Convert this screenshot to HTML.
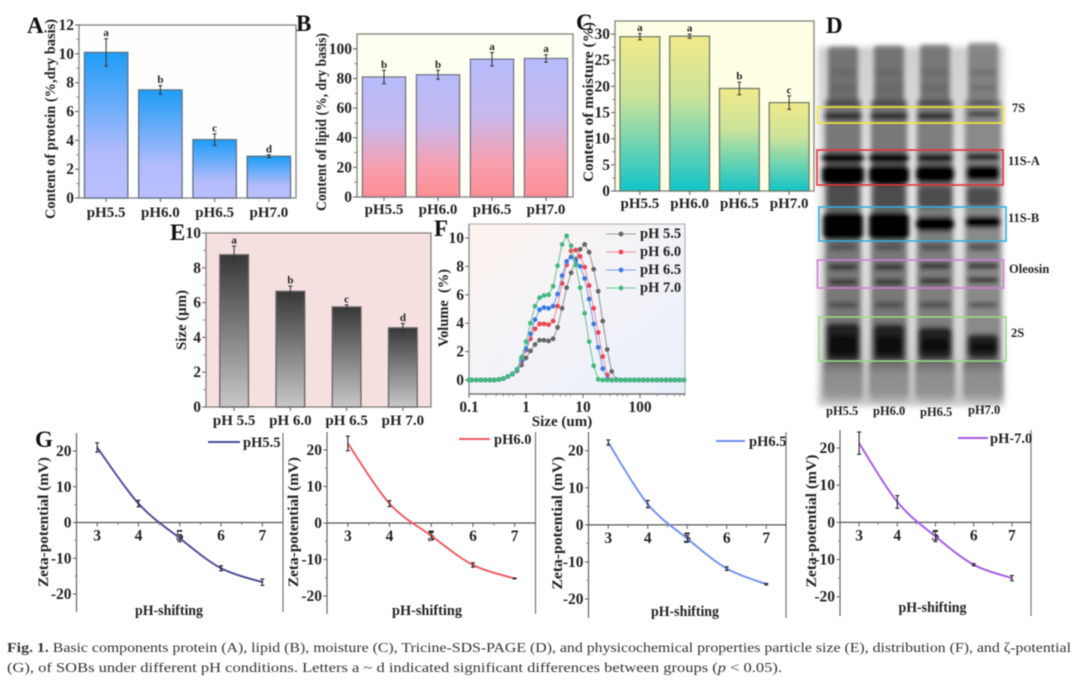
<!DOCTYPE html>
<html lang="en">
<head>
<meta charset="utf-8">
<title>Fig. 1 Basic components and physicochemical properties of SOBs</title>
<style>
html,body{margin:0;padding:0;background:#fff;width:1080px;height:686px;overflow:hidden}
svg{display:block;filter:blur(0.45px)}
text{font-family:"Liberation Serif","DejaVu Serif",serif;font-weight:bold;fill:#222}
.letter{font-size:23px;fill:#111}
.title{font-size:15px;text-anchor:middle}
.leg{font-size:14.5px}
.gel{font-size:12.5px}
.cap{font-size:14px;font-weight:normal;fill:#333}
</style>
</head>
<body>
<svg id="figure" xmlns="http://www.w3.org/2000/svg" width="1080" height="686" viewBox="0 0 1080 686">
<defs>
<linearGradient id="gradA" x1="0" y1="0" x2="0" y2="1"><stop offset="0" stop-color="#1d9df6"/><stop offset=".7" stop-color="#b4bbfc"/><stop offset="1" stop-color="#bbbffc"/></linearGradient>
<linearGradient id="gradB" x1="0" y1="0" x2="0" y2="1"><stop offset="0" stop-color="#b7bcfb"/><stop offset=".4" stop-color="#c6b9ee"/><stop offset=".75" stop-color="#f79fae"/><stop offset="1" stop-color="#ff8e93"/></linearGradient>
<linearGradient id="gradC" x1="0" y1="0" x2="0" y2="1"><stop offset="0" stop-color="#f1ea8a"/><stop offset=".4" stop-color="#cbe39b"/><stop offset="1" stop-color="#12c4c8"/></linearGradient>
<linearGradient id="gradE" x1="0" y1="0" x2="0" y2="1"><stop offset="0" stop-color="#373737"/><stop offset="1" stop-color="#c8c8c8"/></linearGradient>
<linearGradient id="gradF" x1="0" y1="0" x2="1" y2="1"><stop offset="0" stop-color="#fdf3ee"/><stop offset=".5" stop-color="#f3f3f8"/><stop offset="1" stop-color="#e9f0fa"/></linearGradient>
<linearGradient id="laneFill" x1="0" y1="0" x2="0" y2="1"><stop offset="0" stop-color="#757575"/><stop offset="1" stop-color="#6a6a6a"/></linearGradient>
<linearGradient id="laneBottom" x1="0" y1="0" x2="0" y2="1"><stop offset="0" stop-color="#5e5e5e"/><stop offset=".35" stop-color="#8c8c8c"/><stop offset=".8" stop-color="#939393"/><stop offset="1" stop-color="#b4b4b4"/></linearGradient>
<linearGradient id="gelBack" x1="0" y1="0" x2="0" y2="1"><stop offset="0" stop-color="#cfcfcf"/><stop offset=".45" stop-color="#e4e4e4"/><stop offset=".8" stop-color="#d6d6d6"/><stop offset="1" stop-color="#c4c4c4"/></linearGradient>
<filter id="blurBand" x="-10%" y="-10%" width="120%" height="120%"><feGaussianBlur stdDeviation="2.4"/></filter>
<filter id="blurBack" x="-10%" y="-10%" width="120%" height="120%"><feGaussianBlur stdDeviation="3"/></filter>
</defs>

<g id="gel"></g>
<g id="charts"></g>

<g>
<text class="letter" x="27" y="33">A</text>
<text class="letter" x="296" y="31">B</text>
<text class="letter" x="576" y="30">C</text>
<text class="letter" x="826" y="33">D</text>
<text class="letter" x="170" y="240">E</text>
<text class="letter" x="434" y="236">F</text>
<text class="letter" x="35" y="447">G</text>
</g>

<g>
<text class="title" transform="translate(55,119) rotate(-90)" textLength="200" lengthAdjust="spacingAndGlyphs">Content of protein (%,dry basis)</text>
<text class="title" transform="translate(326,122) rotate(-90)" textLength="178" lengthAdjust="spacingAndGlyphs">Content of lipid (%, dry basis)</text>
<text class="title" transform="translate(593,102) rotate(-90)" textLength="160" lengthAdjust="spacingAndGlyphs">Content of moisture (%)</text>
<text class="title" transform="translate(186,320) rotate(-90)" textLength="60" lengthAdjust="spacingAndGlyphs">Size (µm)</text>
<text class="title" transform="translate(448,308) rotate(-90)" textLength="78" lengthAdjust="spacingAndGlyphs" xml:space="preserve">Volume  (%)</text>
<text class="title" x="562" y="426">Size (um)</text>
<text class="title" transform="translate(48,522) rotate(-90)" textLength="130" lengthAdjust="spacingAndGlyphs">Zeta-potential (mV)</text>
<text class="title" transform="translate(298,522) rotate(-90)" textLength="130" lengthAdjust="spacingAndGlyphs">Zeta-potential (mV)</text>
<text class="title" transform="translate(562,523) rotate(-90)" textLength="133" lengthAdjust="spacingAndGlyphs">Zeta-potential (mV)</text>
<text class="title" transform="translate(816,521) rotate(-90)" textLength="133" lengthAdjust="spacingAndGlyphs">Zeta-potential (mV)</text>
<text class="title" x="169" y="615" textLength="68" lengthAdjust="spacingAndGlyphs">pH-shifting</text>
<text class="title" x="427" y="615" textLength="70" lengthAdjust="spacingAndGlyphs">pH-shifting</text>
<text class="title" x="685" y="616" textLength="68" lengthAdjust="spacingAndGlyphs">pH-shifting</text>
<text class="title" x="932.5" y="612" textLength="68" lengthAdjust="spacingAndGlyphs">pH-shifting</text>
</g>

<g>
<text class="leg" x="640" y="238">pH 5.5</text>
<text class="leg" x="640" y="256">pH 6.0</text>
<text class="leg" x="640" y="274">pH 6.5</text>
<text class="leg" x="640" y="292">pH 7.0</text>
</g>

<g>
<line x1="208" x2="240" y1="442" y2="442" stroke="#4a4a96" stroke-width="2"/>
<text class="leg" x="243" y="447">pH5.5</text>
<line x1="459" x2="490" y1="439" y2="439" stroke="#ee5a60" stroke-width="2"/>
<text class="leg" x="494" y="444">pH6.0</text>
<line x1="716" x2="745" y1="441" y2="441" stroke="#6f8ff0" stroke-width="2"/>
<text class="leg" x="749" y="446">pH6.5</text>
<line x1="958" x2="988" y1="438" y2="438" stroke="#a45be8" stroke-width="2"/>
<text class="leg" x="990" y="443">pH-7.0</text>
</g>

<g>
<rect x="817.5" y="107" width="186" height="16" fill="none" stroke="#f2e93c" stroke-width="1.6"/>
<rect x="817" y="150" width="186" height="35" fill="none" stroke="#e8323c" stroke-width="1.6"/>
<rect x="819" y="207" width="187" height="34" fill="none" stroke="#35aee6" stroke-width="1.6"/>
<rect x="817.5" y="260" width="186" height="28" fill="none" stroke="#d07fd6" stroke-width="1.6"/>
<rect x="819" y="317" width="187" height="44" fill="none" stroke="#97dc86" stroke-width="1.6"/>
<text class="gel" x="1012" y="112">7S</text>
<text class="gel" x="1008" y="165">11S-A</text>
<text class="gel" x="1008" y="222">11S-B</text>
<text class="gel" x="1009" y="273">Oleosin</text>
<text class="gel" x="1011" y="337">2S</text>
<text class="gel" x="826" y="415">pH5.5</text>
<text class="gel" x="873" y="415">pH6.0</text>
<text class="gel" x="920" y="416">pH6.5</text>
<text class="gel" x="968" y="414">pH7.0</text>
</g>

<g>
<text class="cap" x="7" y="652" textLength="1064" lengthAdjust="spacingAndGlyphs"><tspan font-weight="bold">Fig. 1.</tspan>  Basic components protein (A), lipid (B), moisture (C), Tricine-SDS-PAGE (D), and physicochemical properties particle size (E), distribution (F), and ζ-potential</text>
<text class="cap" x="7" y="672" textLength="775" lengthAdjust="spacingAndGlyphs">(G), of SOBs under different pH conditions. Letters a ~ d indicated significant differences between groups (<tspan font-style="italic">p</tspan> &lt; 0.05).</text>
</g>
</svg>

<script>
/* ---- chart data ---- */
const barCategories = ['pH5.5', 'pH6.0', 'pH6.5', 'pH7.0'];
const sizeCategories = ['pH 5.5', 'pH 6.0', 'pH 6.5', 'pH 7.0'];

const proteinValues = [10.1, 7.5, 4.05, 2.9];
const proteinErrors = [0.95, 0.3, 0.4, 0.1];
const proteinLetters = ['a', 'b', 'c', 'd'];
const proteinTicks = [0, 2, 4, 6, 8, 10, 12];

const lipidValues = [81, 82.5, 93, 93.5];
const lipidErrors = [4.5, 3, 4.5, 2.5];
const lipidLetters = ['b', 'b', 'a', 'a'];
const lipidTicks = [0, 20, 40, 60, 80, 100];

const moistureValues = [29.5, 29.6, 19.6, 16.9];
const moistureErrors = [0.6, 0.4, 1.2, 1.3];
const moistureLetters = ['a', 'a', 'b', 'c'];
const moistureTicks = [0, 5, 10, 15, 20, 25, 30];

const sizeValues = [8.75, 6.65, 5.75, 4.55];
const sizeErrors = [0.5, 0.3, 0.12, 0.25];
const sizeLetters = ['a', 'b', 'c', 'd'];
const sizeTicks = [0, 2, 4, 6, 8, 10];

const particleSizes = [0.1,0.112,0.135,0.162,0.194,0.233,0.279,0.335,0.402,0.482,0.579,0.694,0.833,1,1.2,1.44,1.73,2.07,2.49,2.99,3.58,4.3,5.16,6.19,7.43,8.92,10.7,12.8,15.4,18.5,22.2,26.6,31.9,38.3,46,55.2,66.2,79.5,95.4,114,137,165,198,237,285,342,410,492,591];
const volumeGrey  = [0,0,0,0,0,0,0,0.03,0.1,0.25,0.42,0.65,1.05,1.55,2.05,2.5,2.8,2.8,2.75,2.9,3.7,5.05,6.5,7.55,8.5,9.2,9.55,9.0,7.8,6.25,4.15,2.15,0.6,0.03,0,0,0,0,0,0,0,0,0,0,0,0,0,0,0];
const volumeRed   = [0,0,0,0,0,0,0,0.03,0.1,0.25,0.42,0.7,1.3,2.1,2.9,3.6,3.95,3.95,3.9,4.15,5.2,6.8,8.1,9.1,9.15,8.7,7.95,6.65,5.05,3.35,1.65,0.35,0,0,0,0,0,0,0,0,0,0,0,0,0,0,0,0,0];
const volumeBlue  = [0,0,0,0,0,0,0,0.03,0.1,0.25,0.42,0.7,1.4,2.2,3.25,4.25,4.95,5.1,5.05,5.2,6.05,7.35,8.35,8.65,8.4,8.0,7.15,5.7,3.95,2.3,0.8,0.05,0,0,0,0,0,0,0,0,0,0,0,0,0,0,0,0,0];
const volumeGreen = [0,0,0,0,0,0,0,0.03,0.1,0.25,0.45,0.75,1.6,2.7,4.0,5.2,5.8,5.95,6.0,6.6,8.05,9.55,10.15,9.45,8.1,6.5,4.7,2.7,1.0,0.05,0,0,0,0,0,0,0,0,0,0,0,0,0,0,0,0,0,0,0];
const volumeTicks = [0, 2, 4, 6, 8, 10];
const sizeAxisTicks = [0.1, 1, 10, 100];
const sizeAxisLabels = ['0.1', '1', '10', '100'];

const shiftPH = [3, 4, 5, 6, 7];
const zetaTicks = [-20, -10, 0, 10, 20];
const zeta55 = [21, 5.3, -4.4, -12.8, -16.7];
const zeta55Err = [1.3, 0.9, 1.0, 0.7, 0.9];
const zeta60 = [21.8, 5.3, -3.5, -11.5, -15.2];
const zeta60Err = [2.0, 0.8, 0.8, 0.6, 0.1];
const zeta65 = [22.2, 5.6, -3.7, -11.8, -16];
const zeta65Err = [0.7, 1.0, 0.8, 0.5, 0.2];
const zeta70 = [21.3, 5.5, -3.8, -11.4, -15];
const zeta70Err = [3, 1.7, 1.4, 0.3, 0.7];

/* ---- helpers ---- */
const NS = 'http://www.w3.org/2000/svg';
const charts = document.getElementById('charts');
const gel = document.getElementById('gel');

function add(parent, tag, attrs, name) {
  const el = document.createElementNS(NS, tag);
  for (const k in attrs) el.setAttribute(k, attrs[k]);
  
  
  parent.appendChild(el);
  return el;
}
function label(parent, x, y, str, size, anchor, name) {
  const t = add(parent, 'text', {x: x, y: y, 'font-size': size, 'text-anchor': anchor}, name);
  t.textContent = str;
  return t;
}
function linear(d0, d1, r0, r1) {
  return function (v) { return r0 + (v - d0) * (r1 - r0) / (d1 - d0); };
}
function logScale(d0, d1, r0, r1) {
  const l = linear(Math.log10(d0), Math.log10(d1), r0, r1);
  return function (v) { return l(Math.log10(v)); };
}

/* ---- bar panels ---- */
function barPanel(o) {
  const g = add(charts, 'g', {}, 'panel-' + o.key);
  const yScale = linear(0, o.yMax, o.bottom, o.top);
  const pitch = (o.right - o.left) / o.cats.length;
  const xCenter = function (i) { return o.left + (i + 0.5) * pitch; };
  add(g, 'rect', {x: o.left, y: o.top, width: o.right - o.left, height: o.bottom - o.top, fill: o.bg, stroke: '#8a8a84', 'stroke-width': 1.4}, 'plot-frame-' + o.key);

  o.ticks.forEach(function (v, i) {
    const y = yScale(v);
    add(g, 'line', {x1: o.left - 4, x2: o.left, y1: y, y2: y, stroke: '#666', 'stroke-width': 1.1}, 'y-tick');
    label(g, o.left - 5, y + 5, String(v), 15.5, 'end', 'y-tick-label');
    if (i < o.ticks.length - 1) {
      const m = yScale((v + o.ticks[i + 1]) / 2);
      add(g, 'line', {x1: o.left - 2.5, x2: o.left, y1: m, y2: m, stroke: '#777', 'stroke-width': 1}, 'y-minor-tick');
    }
  });
  o.cats.forEach(function (c, i) {
    const cx = xCenter(i);
    const w = pitch * o.barRatio;
    const top = yScale(o.values[i]);
    add(g, 'rect', {x: cx - w / 2, y: top, width: w, height: o.bottom - top, fill: 'url(#' + o.grad + ')', stroke: o.barStroke, 'stroke-width': 1.3}, 'bar-' + o.key + '-' + i);
    const e1 = yScale(o.values[i] + o.errors[i]);
    const e2 = yScale(o.values[i] - o.errors[i]);
    add(g, 'line', {x1: cx, x2: cx, y1: e1, y2: e2, stroke: '#333', 'stroke-width': 1}, 'error-bar');
    add(g, 'line', {x1: cx - 2, x2: cx + 2, y1: e1, y2: e1, stroke: '#333', 'stroke-width': 1}, 'error-cap-top');
    add(g, 'line', {x1: cx - 2, x2: cx + 2, y1: e2, y2: e2, stroke: '#333', 'stroke-width': 1}, 'error-cap-bottom');
    label(g, cx, e1 - 2.5, o.letters[i], 11, 'middle', 'significance-letter');
    add(g, 'line', {x1: cx, x2: cx, y1: o.bottom, y2: o.bottom + 4, stroke: '#666', 'stroke-width': 1.1}, 'x-tick');
    label(g, cx, o.labelY, c, 15, 'middle', 'x-tick-label');
  });
}

barPanel({key: 'protein', left: 79, right: 296, top: 25, bottom: 198, yMax: 12, ticks: proteinTicks, cats: barCategories, values: proteinValues, errors: proteinErrors, letters: proteinLetters, bg: '#fefefd', grad: 'gradA', barStroke: '#5f7287', barRatio: 0.8, labelY: 217});
barPanel({key: 'lipid', left: 357, right: 573, top: 34, bottom: 197, yMax: 110, ticks: lipidTicks, cats: barCategories, values: lipidValues, errors: lipidErrors, letters: lipidLetters, bg: '#fffff2', grad: 'gradB', barStroke: '#76748a', barRatio: 0.8, labelY: 214});
barPanel({key: 'moisture', left: 615, right: 814, top: 21, bottom: 191, yMax: 32.5, ticks: moistureTicks, cats: barCategories, values: moistureValues, errors: moistureErrors, letters: moistureLetters, bg: '#ffffe6', grad: 'gradC', barStroke: '#6f7f6a', barRatio: 0.8, labelY: 208});
barPanel({key: 'size', left: 206, right: 431, top: 233, bottom: 407, yMax: 10, ticks: sizeTicks, cats: sizeCategories, values: sizeValues, errors: sizeErrors, letters: sizeLetters, bg: '#f5dfdf', grad: 'gradE', barStroke: '#666', barRatio: 0.51, labelY: 425});

/* ---- distribution panel ---- */
(function () {
  const g = add(charts, 'g', {}, 'panel-distribution');
  const left = 469, right = 685, top = 224, bottom = 394;
  const xs = logScale(0.1, 1, left, left + 57);
  const ys = linear(0, 10, 380, 238);
  add(g, 'rect', {x: left, y: top, width: right - left, height: bottom - top, fill: 'url(#gradF)', stroke: '#b5b5b5', 'stroke-width': 1.2}, 'plot-frame-distribution');
  add(g, 'line', {x1: left, x2: right, y1: bottom, y2: bottom, stroke: '#666', 'stroke-width': 1.2}, 'x-axis-line');
  add(g, 'line', {x1: left, x2: left, y1: top, y2: bottom, stroke: '#888', 'stroke-width': 1.2}, 'y-axis-line');
  volumeTicks.forEach(function (v) {
    add(g, 'line', {x1: left - 4, x2: left, y1: ys(v), y2: ys(v), stroke: '#666', 'stroke-width': 1}, 'y-tick');
    label(g, left - 5, ys(v) + 5, String(v), 15.5, 'end', 'y-tick-label');
  });
  sizeAxisTicks.forEach(function (v, i) {
    add(g, 'line', {x1: xs(v), x2: xs(v), y1: bottom, y2: bottom + 4, stroke: '#666', 'stroke-width': 1}, 'x-tick');
    label(g, xs(v), 412, sizeAxisLabels[i], 15.5, 'middle', 'x-tick-label');
    [2, 3, 4, 5, 6].forEach(function (m) {
      if (xs(v * m) < right) add(g, 'line', {x1: xs(v * m), x2: xs(v * m), y1: bottom, y2: bottom + 2.5, stroke: '#777', 'stroke-width': 0.8}, 'x-minor-tick');
    });
  });
  const series = [
    {name: 'ph-55', vals: volumeGrey, line: '#9a9a9a', dot: '#666666', ly: 234},
    {name: 'ph-60', vals: volumeRed, line: '#f4929a', dot: '#ee4552', ly: 252},
    {name: 'ph-65', vals: volumeBlue, line: '#7aa4ec', dot: '#3a7ce6', ly: 270},
    {name: 'ph-70', vals: volumeGreen, line: '#70c69a', dot: '#44b880', ly: 288}
  ];
  series.forEach(function (s) {
    const pts = s.vals.map(function (v, i) { return xs(particleSizes[i]).toFixed(1) + ',' + ys(v).toFixed(1); }).join(' ');
    add(g, 'polyline', {points: pts, fill: 'none', stroke: s.line, 'stroke-width': 1.1}, 'line-' + s.name);
    s.vals.forEach(function (v, i) {
      add(g, 'circle', {cx: xs(particleSizes[i]), cy: ys(v), r: 2.4, fill: s.dot}, 'point-' + s.name);
    });
    add(g, 'line', {x1: 606, x2: 636, y1: s.ly, y2: s.ly, stroke: s.line, 'stroke-width': 1.1}, 'legend-line-' + s.name);
    add(g, 'circle', {cx: 621, cy: s.ly, r: 2.4, fill: s.dot}, 'legend-marker-' + s.name);
  });
})();

/* ---- zeta panels ---- */
function zetaPanel(o) {
  const g = add(charts, 'g', {}, 'panel-zeta-' + o.key);
  const xs = linear(2.5, 7.5, o.left, o.right);
  const ys = linear(20, -20, o.y20, o.yM20);
  const zero = ys(0);
  add(g, 'line', {x1: o.left, x2: o.left, y1: o.top, y2: o.bottom, stroke: '#666', 'stroke-width': 1.2}, 'y-axis-line');
  add(g, 'line', {x1: o.right, x2: o.right, y1: o.top, y2: o.bottom, stroke: '#777', 'stroke-width': 1.2}, 'right-border');
  add(g, 'line', {x1: o.left, x2: o.right, y1: zero, y2: zero, stroke: '#555', 'stroke-width': 1.2}, 'zero-line');
  zetaTicks.forEach(function (v, i) {
    add(g, 'line', {x1: o.left - 3.5, x2: o.left, y1: ys(v), y2: ys(v), stroke: '#555', 'stroke-width': 1}, 'y-tick');
    label(g, o.left - 5, ys(v) + 5, String(v), 15.5, 'end', 'y-tick-label');
    if (i < zetaTicks.length - 1) {
      const m = ys(v + 5);
      add(g, 'line', {x1: o.left - 2, x2: o.left, y1: m, y2: m, stroke: '#666', 'stroke-width': 0.8}, 'y-minor-tick');
    }
  });
  shiftPH.forEach(function (v) {
    add(g, 'line', {x1: xs(v), x2: xs(v), y1: zero, y2: zero + 4, stroke: '#555', 'stroke-width': 1}, 'x-tick');
    add(g, 'line', {x1: xs(v + 0.5), x2: xs(v + 0.5), y1: zero, y2: zero + 2.5, stroke: '#666', 'stroke-width': 0.8}, 'x-minor-tick');
    label(g, xs(v), zero + 18, String(v), 15.5, 'middle', 'x-tick-label');
  });
  const p = o.values.map(function (v, i) { return [xs(shiftPH[i]), ys(v)]; });
  let d = 'M' + p[0][0] + ' ' + p[0][1];
  for (let i = 0; i < p.length - 1; i++) {
    const a = p[Math.max(0, i - 1)], b = p[i], c = p[i + 1], e = p[Math.min(p.length - 1, i + 2)];
    d += ' C' + (b[0] + (c[0] - a[0]) / 6) + ' ' + (b[1] + (c[1] - a[1]) / 6) + ' ' + (c[0] - (e[0] - b[0]) / 6) + ' ' + (c[1] - (e[1] - b[1]) / 6) + ' ' + c[0] + ' ' + c[1];
  }
  add(g, 'path', {d: d, fill: 'none', stroke: o.color, 'stroke-width': 1.9}, 'zeta-line-' + o.key);
  o.values.forEach(function (v, i) {
    const x = xs(shiftPH[i]), y1 = ys(v + o.errors[i]), y2 = ys(v - o.errors[i]);
    add(g, 'line', {x1: x, x2: x, y1: y1, y2: y2, stroke: '#222', 'stroke-width': 1.1}, 'error-bar');
    add(g, 'line', {x1: x - 2, x2: x + 2, y1: y1, y2: y1, stroke: '#222', 'stroke-width': 1.1}, 'error-cap-top');
    add(g, 'line', {x1: x - 2, x2: x + 2, y1: y2, y2: y2, stroke: '#222', 'stroke-width': 1.1}, 'error-cap-bottom');
  });
}
zetaPanel({key: 'ph55', left: 76.5, right: 283, top: 433, bottom: 612, y20: 451, yM20: 594, values: zeta55, errors: zeta55Err, color: '#4a4a96'});
zetaPanel({key: 'ph60', left: 327, right: 535.5, top: 432, bottom: 614, y20: 450, yM20: 596, values: zeta60, errors: zeta60Err, color: '#ee5a60'});
zetaPanel({key: 'ph65', left: 588.5, right: 786, top: 432, bottom: 618, y20: 450.7, yM20: 599, values: zeta65, errors: zeta65Err, color: '#6f8ff0'});
zetaPanel({key: 'ph70', left: 840, right: 1031, top: 430, bottom: 616, y20: 448, yM20: 596.7, values: zeta70, errors: zeta70Err, color: '#a45be8'});

/* ---- gel image approximation ---- */
(function () {
  const lanes = [843, 889, 935, 983];
  const laneTop = [47, 46, 45, 43];
  const laneShade = [1, 1, 0.95, 0.82];
  /* each band: centre y per lane, height per lane, width per lane */
  const bands = [
    {y: [72, 72, 72, 72], h: [2, 2, 2, 2], w: [28, 28, 28, 28], c: '#5c5c5c'},
    {y: [88, 88, 88, 88], h: [2, 2, 2, 2], w: [28, 28, 28, 28], c: '#5c5c5c'},
    {y: [103, 103, 103, 103], h: [5, 5, 5, 4], w: [34, 34, 34, 30], c: '#3a3a3a'},
    {y: [116, 116, 116, 114], h: [7, 7, 7, 5], w: [38, 38, 36, 32], c: '#262626'},
    {y: [197, 197, 197, 197], h: [24, 24, 22, 20], w: [32, 32, 34, 32], c: '#4e4e4e'},
    {y: [158, 158, 158, 157], h: [10, 10, 8, 7], w: [42, 40, 36, 34], c: '#020202'},
    {y: [175, 175, 174, 173], h: [20, 20, 18, 16], w: [42, 40, 38, 34], c: '#030303'},
    {y: [226, 226, 224, 222], h: [28, 28, 15, 12], w: [40, 40, 38, 36], c: '#020202'},
    {y: [247, 247, 247, 247], h: [8, 8, 8, 8], w: [28, 28, 30, 30], c: '#555555'},
    {y: [267, 267, 266, 266], h: [6, 6, 6, 6], w: [30, 30, 32, 32], c: '#2c2c2c'},
    {y: [282, 282, 281, 280], h: [6, 6, 6, 6], w: [30, 30, 32, 32], c: '#2c2c2c'},
    {y: [305, 305, 305, 305], h: [6, 6, 6, 5], w: [30, 30, 32, 30], c: '#4c4c4c'},
    {y: [342, 342, 343, 346], h: [38, 36, 32, 24], w: [34, 32, 34, 32], c: '#222222'},
    {y: [345, 345, 345, 347], h: [20, 18, 14, 9], w: [28, 26, 28, 26], c: '#0e0e0e'}
  ];
  add(gel, 'rect', {x: 818, y: 47, width: 186, height: 359, fill: 'url(#gelBack)', filter: 'url(#blurBack)'}, 'gel-background');
  const main = add(gel, 'g', {filter: 'url(#blurBand)'}, 'gel-lanes');
  lanes.forEach(function (cx, l) {
    const laneColor = l === 3 ? '#8a8a8a' : (l === 2 ? '#7e7e7e' : '#787878');
    add(main, 'rect', {x: cx - 15, y: laneTop[l], width: 30, height: 60, fill: 'url(#laneFill)', opacity: laneShade[l], rx: 3}, 'gel-lane-upper');
    add(main, 'rect', {x: cx - 18, y: 100, width: 36, height: 265, fill: laneColor}, 'gel-lane-lower');
    add(main, 'rect', {x: cx - 20, y: 358, width: 40, height: 44, fill: 'url(#laneBottom)', rx: 8}, 'gel-lane-bottom');
    bands.forEach(function (b) {
      add(main, 'rect', {x: cx - b.w[l] / 2, y: b.y[l] - b.h[l] / 2, width: b.w[l], height: b.h[l], fill: b.c, rx: 6}, 'gel-band');
    });
  });
})();
</script>
</body>
</html>
